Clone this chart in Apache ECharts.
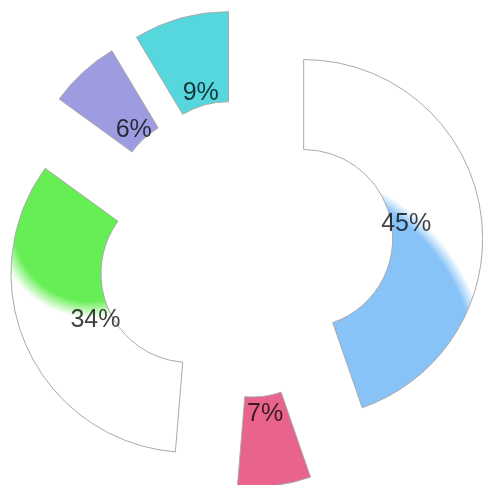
<!DOCTYPE html>
<html>
<head>
<meta charset="utf-8">
<script src="https://cdn.jsdelivr.net/npm/echarts@6/dist/echarts.min.js"></script>
<style>
  html, body { margin: 0; padding: 0; background: #fff; }
  #chart { width: 483px; height: 485px; }
</style>
</head>
<body>
<div id="chart"></div>
<script>
// slice data, clockwise from 12 o'clock
const names = ['Alpha', 'Beta', 'Gamma', 'Delta', 'Epsilon'];
const values = [44.7, 6.6, 33.7, 6.4, 8.6];
const colors = ['#88c3f8', '#e8648d', '#66ee55', '#9e9ce0', '#56d7de'];

// the two large slices fade into white
const fills = [
  new echarts.graphic.RadialGradient(-0.121, 0.9, 1.2, [
    { offset: 0, color: colors[0] },
    { offset: 0.9, color: colors[0] },
    { offset: 0.96, color: '#fff' },
    { offset: 1, color: '#fff' }
  ]),
  colors[1],
  new echarts.graphic.RadialGradient(0.462, 0.199, 0.6, [
    { offset: 0, color: colors[2] },
    { offset: 0.74, color: colors[2] },
    { offset: 0.9, color: '#fff' },
    { offset: 1, color: '#fff' }
  ]),
  colors[3],
  colors[4]
];

const center = [244.5, 248.5];
const offset = 60;

const chart = echarts.init(document.getElementById('chart'));

chart.setOption({
  animation: false,
  series: [
    {
      type: 'pie',
      center: center,
      radius: [89, 179],
      startAngle: 90,
      selectedMode: 'multiple',
      selectedOffset: offset,
      label: { show: false },
      labelLine: { show: false },
      itemStyle: { borderColor: '#aaa', borderWidth: 1 },
      select: { itemStyle: { borderColor: '#aaa', borderWidth: 1 } },
      emphasis: { disabled: true },
      data: values.map((v, i) => ({
        name: names[i],
        value: v,
        selected: true,
        itemStyle: { color: fills[i] }
      }))
    },
    {
      // transparent ring that only carries the percentage labels
      type: 'pie',
      center: center,
      radius: [89, 113],
      startAngle: 90,
      silent: true,
      selectedMode: 'multiple',
      selectedOffset: offset,
      itemStyle: { color: 'transparent', borderWidth: 0 },
      select: { itemStyle: { color: 'transparent', borderWidth: 0 } },
      emphasis: { disabled: true },
      labelLine: { show: false },
      labelLayout: { dy: 3 },
      label: {
        show: true,
        position: 'inside',
        formatter: (p) => Math.round(p.percent) + '%',
        fontSize: 25,
        fontFamily: 'Liberation Sans',
        color: 'rgba(0,0,0,0.75)',
        textBorderWidth: 0
      },
      data: values.map((v, i) => ({ name: names[i], value: v, selected: true }))
    }
  ]
});
</script>
</body>
</html>
